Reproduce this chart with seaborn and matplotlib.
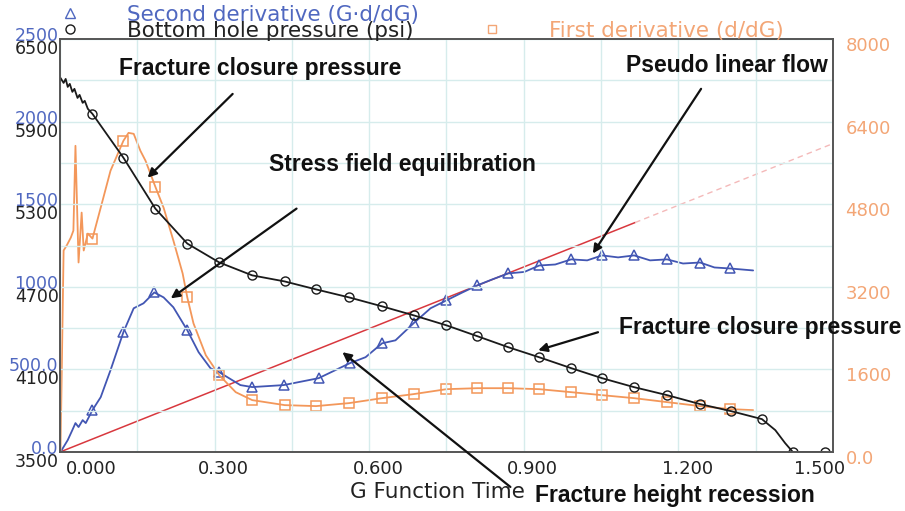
import numpy as np
import pandas as pd
import matplotlib
matplotlib.use("Agg")
import matplotlib.pyplot as plt
import matplotlib.transforms as mtransforms
from matplotlib.lines import Line2D
import seaborn as sns

# ---------------- data ----------------
g_bhp = [0.001, 0.007, 0.011, 0.015, 0.019, 0.024, 0.028, 0.034, 0.038, 0.044, 0.048, 0.054,
         0.063, 0.123, 0.185, 0.247, 0.309, 0.373, 0.436, 0.497, 0.561, 0.625, 0.686, 0.750,
         0.810, 0.870, 0.930, 0.992, 1.052, 1.114, 1.178, 1.242, 1.302, 1.362, 1.388, 1.407,
         1.422, 1.485]
bhp = [6217, 6181, 6210, 6152, 6174, 6116, 6138, 6072, 6094, 6036, 6051, 5993,
       5956, 5638, 5268, 5014, 4877, 4783, 4739, 4681, 4623, 4558, 4493, 4420,
       4341, 4261, 4188, 4109, 4036, 3971, 3913, 3848, 3797, 3739, 3659, 3565,
       3500, 3500]
bhp_marks = [12, 13, 14, 15, 16, 17, 18, 19, 20, 21, 22, 23, 24, 25, 26, 27, 28, 29,
             30, 31, 32, 33, 36, 37]

g_sd = [0.001, 0.015, 0.024, 0.030, 0.036, 0.044, 0.050, 0.063, 0.079, 0.098, 0.123, 0.143,
        0.162, 0.183, 0.201, 0.220, 0.247, 0.269, 0.292, 0.309, 0.350, 0.373, 0.434, 0.502,
        0.562, 0.593, 0.625, 0.651, 0.686, 0.719, 0.750, 0.781, 0.810, 0.839, 0.870, 0.901,
        0.930, 0.961, 0.992, 1.023, 1.052, 1.083, 1.114, 1.145, 1.178, 1.209, 1.242, 1.270,
        1.300, 1.345]
sd = [0, 72, 133, 175, 151, 193, 175, 254, 332, 495, 725, 870,
      900, 966, 936, 876, 737, 604, 507, 483, 405, 393, 405, 447,
      537, 574, 658, 676, 779, 870, 918, 966, 1009, 1045, 1081, 1090,
      1129, 1135, 1166, 1160, 1190, 1178, 1190, 1160, 1166, 1141, 1147, 1117,
      1111, 1099]
sd_marks = [7, 10, 13, 16, 19, 21, 22, 23, 24, 26, 28, 30, 32, 34, 36, 38, 40, 42, 44, 46, 48]

g_fd = [0.001, 0.007, 0.013, 0.021, 0.026, 0.030, 0.036, 0.042, 0.046, 0.054, 0.063, 0.079,
        0.098, 0.123, 0.133, 0.143, 0.156, 0.166, 0.185, 0.201, 0.220, 0.238, 0.247, 0.259,
        0.283, 0.309, 0.341, 0.373, 0.436, 0.497, 0.561, 0.625, 0.686, 0.750, 0.810, 0.870,
        0.930, 0.992, 1.052, 1.114, 1.178, 1.242, 1.300, 1.345]
fd = [0, 3903, 4000, 4154, 4289, 5931, 3671, 4637, 3903, 4231, 4134, 4733,
      5448, 6028, 6182, 6163, 5835, 5641, 5139, 4733, 4096, 3458, 2995, 2492,
      1874, 1488, 1159, 1005, 908, 889, 947, 1043, 1121, 1217, 1236, 1236,
      1217, 1159, 1101, 1043, 966, 889, 831, 811]
fd_marks = [10, 13, 18, 22, 25, 27, 28, 29, 30, 31, 32, 33, 34, 35, 36, 37, 38, 39, 40, 41, 42]

tangent_g = [0.0, 1.116]
tangent_sd = [0.0, 1389]
tangent_ext_g = [1.116, 1.5]
tangent_ext_sd = [1389, 1867]

x_ticks = [0.0, 0.3, 0.6, 0.9, 1.2, 1.5]
x_tick_labels = ["0.000", "0.300", "0.600", "0.900", "1.200", "1.500"]
p_ticks = [3500, 4100, 4700, 5300, 5900, 6500]
p_tick_labels = ["3500", "4100", "4700", "5300", "5900", "6500"]
sd_ticks = [0, 500, 1000, 1500, 2000, 2500]
sd_tick_labels = ["0.0", "500.0", "1000", "1500", "2000", "2500"]
fd_ticks = [0, 1600, 3200, 4800, 6400, 8000]
fd_tick_labels = ["0.0", "1600", "3200", "4800", "6400", "8000"]

# ---------------- styling ----------------
BLUE = "#4256b3"
BLUE_TXT = "#5068c0"
ORANGE = "#f3975a"
ORANGE_TXT = "#f3a676"
BLACK = "#1a1a1a"
RED = "#d8383e"
PINK = "#f4b9b9"
GRID = "#d6ecec"
SPINE = "#555555"

sns.set_theme(style="white")
plt.rcParams['font.family'] = ['DejaVu Sans']

W, H = 905, 511
fig = plt.figure(figsize=(W / 100, H / 100), dpi=100)
ax = fig.add_axes([60 / W, (H - 452) / H, 773 / W, 413 / H])
ax_sd = ax.twinx()
ax_fd = ax.twinx()

ax.set_xlim(0, 1.5)
ax.set_ylim(3500, 6500)
ax_sd.set_ylim(0, 2500)
ax_fd.set_ylim(0, 8000)

# grid
ax.set_xticks(np.arange(0, 1.5001, 0.15), minor=True)
ax.set_yticks(np.arange(3500, 6500.1, 300), minor=True)
ax.grid(which='both', color=GRID, lw=1.0)
ax.set_axisbelow(True)

# tangent line (second derivative axis)
sns.lineplot(x=tangent_g, y=tangent_sd, ax=ax_sd, color=RED, lw=1.1, sort=False, estimator=None)
sns.lineplot(x=tangent_ext_g, y=tangent_ext_sd, ax=ax_sd, color=PINK, lw=1.0,
             linestyle=(0, (4, 3)), sort=False, estimator=None)

# series
sns.lineplot(x=g_sd, y=sd, ax=ax_sd, color=BLUE, lw=1.3, sort=False, estimator=None,
             marker='^', markevery=sd_marks, markersize=7.5, markerfacecolor='none',
             markeredgecolor=BLUE, markeredgewidth=1.1)
sns.lineplot(x=g_fd, y=fd, ax=ax_fd, color=ORANGE, lw=1.3, sort=False, estimator=None,
             marker='s', markevery=fd_marks, markersize=6.5, markerfacecolor='none',
             markeredgecolor=ORANGE, markeredgewidth=1.1)
sns.lineplot(x=g_bhp, y=bhp, ax=ax, color=BLACK, lw=1.3, sort=False, estimator=None,
             marker='o', markevery=bhp_marks, markersize=6.5, markerfacecolor='none',
             markeredgecolor=BLACK, markeredgewidth=1.0)
ax.set_zorder(3)
ax.patch.set_visible(False)
ax_fd.set_zorder(2)
ax_sd.set_zorder(1)

# axes / ticks
ax.set_xticks(x_ticks)
ax.set_xticklabels(x_tick_labels)
ax.set_yticks(p_ticks)
ax.set_yticklabels(p_tick_labels)
ax_sd.set_yticks(sd_ticks)
ax_sd.set_yticklabels(sd_tick_labels)
ax_fd.set_yticks(fd_ticks)
ax_fd.set_yticklabels(fd_tick_labels)
for a in (ax, ax_sd, ax_fd):
    a.set_ylabel("")
    a.set_xlabel("")

ax.tick_params(axis='both', which='minor', length=0, left=False, bottom=False,
               labelleft=False, labelbottom=False)
ax.tick_params(axis='x', which='major', length=0, pad=6, labelsize=13, labelcolor="#222222")
ax.tick_params(axis='y', which='major', length=0, pad=1, labelsize=12.5, labelcolor="#222222",
               left=True, labelleft=True, right=False, labelright=False)
ax_sd.yaxis.set_ticks_position('left')
ax_sd.tick_params(axis='y', which='major', length=0, pad=1, labelsize=12.5, labelcolor=BLUE_TXT,
                  left=True, labelleft=True, right=False, labelright=False)
ax_fd.tick_params(axis='y', which='major', length=0, pad=9, labelsize=13, labelcolor=ORANGE_TXT)
for a in (ax_sd, ax_fd):
    a.tick_params(axis='both', which='minor', length=0)

for s in ax.spines.values():
    s.set_color(SPINE)
    s.set_linewidth(1.4)
for a in (ax_sd, ax_fd):
    for s in a.spines.values():
        s.set_visible(False)

ax.set_xlabel("G Function Time", fontsize=15.5, color="#222222")
ax.xaxis.set_label_coords((437 - 60) / 773, -0.072)

# label offsets
def shift(labels, dx_px, dy_px):
    for lab, dx in zip(labels, dx_px):
        lab.set_transform(lab.get_transform() +
                          mtransforms.ScaledTranslation(dx / 100, dy_px / 100, fig.dpi_scale_trans))

fig.canvas.draw()
shift(ax.get_xticklabels(), [31, 9, 9, 9, 9, -13], 0)
shift(ax.get_yticklabels(), [0] * 6, -8)
shift(ax_sd.get_yticklabels(), [0] * 6, 5)
shift(ax_fd.get_yticklabels(), [0] * 6, -5)

# legends
def add_leg(marker, color, label, txtcolor, x_px, y_px, ms):
    h = Line2D([], [], marker=marker, linestyle='none', markerfacecolor='none',
               markeredgecolor=color, markersize=ms, markeredgewidth=1.0)
    leg = fig.legend(handles=[h], labels=[label], loc='center left',
                     bbox_to_anchor=(x_px / W, 1 - y_px / H), bbox_transform=fig.transFigure,
                     frameon=False, handlelength=0, handletextpad=57 / 21.5,
                     borderpad=0, borderaxespad=0, numpoints=1, fontsize=15.5)
    for t in leg.get_texts():
        t.set_color(txtcolor)

add_leg('^', BLUE_TXT, "Second derivative (G\u00b7d/dG)", BLUE_TXT, 70, 15, 7)
add_leg('o', BLACK, "Bottom hole pressure (psi)", "#222222", 70, 31, 6.5)
add_leg('s', ORANGE_TXT, "First derivative (d/dG)", ORANGE_TXT, 492, 31, 6)

# annotations
BOLD = dict(fontfamily=['Liberation Sans', 'DejaVu Sans'], fontweight='bold', fontsize=16.5,
            color="#111111", ha='center', va='center')
texts = [("Fracture closure pressure", 260, 68),
         ("Stress field equilibration", 402, 165),
         ("Pseudo linear flow", 727, 66),
         ("Fracture closure pressure", 760, 327),
         ("Fracture height recession", 675, 495)]
for t, x, y in texts:
    fig.text(x / W, 1 - y / H, t, **BOLD)

arrows = [((0.170, 5493), (0.335, 6101)),
          ((0.215, 4616), (0.459, 5268)),
          ((1.034, 4942), (1.244, 6138)),
          ((0.928, 4239), (1.044, 4370)),
          ((0.548, 4225), (0.874, 3246))]
for head, tail in arrows:
    ax.annotate("", xy=head, xytext=tail, xycoords='data', textcoords='data',
                annotation_clip=False,
                arrowprops=dict(arrowstyle='-|>', color="#111111", lw=1.6,
                                mutation_scale=13, shrinkA=0, shrinkB=0))

fig.savefig("out.png", dpi=100)
